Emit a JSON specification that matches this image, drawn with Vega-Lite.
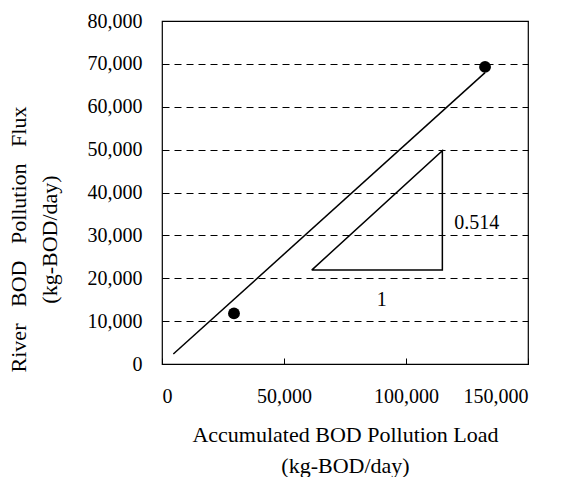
{
  "$schema": "https://vega.github.io/schema/vega-lite/v6.json",
  "width": 366,
  "height": 343,
  "autosize": {"type": "none"},
  "padding": {"left": 162, "top": 21, "right": 35, "bottom": 113},
  "background": "white",
  "config": {
    "font": "Liberation Serif",
    "view": {"stroke": "#000", "strokeWidth": 1.2},
    "axis": {
      "labelFont": "Liberation Serif",
      "titleFont": "Liberation Serif",
      "labelColor": "#000",
      "titleColor": "#000",
      "labelFontSize": 20,
      "titleFontSize": 22,
      "titleFontWeight": "normal",
      "domain": false,
      "tickColor": "#000",
      "tickWidth": 1
    }
  },
  "layer": [
    {
      "data": {"values": [
        {"load": 29500, "flux": 11800},
        {"load": 132400, "flux": 69300}
      ]},
      "mark": {"type": "point", "filled": true, "color": "#000", "opacity": 1, "size": 140},
      "encoding": {
        "x": {
          "field": "load", "type": "quantitative",
          "scale": {"domain": [0, 150000], "nice": false, "zero": true},
          "axis": {
            "values": [0, 50000, 100000, 150000],
            "format": ",d",
            "grid": false,
            "tickSize": -6,
            "labelPadding": 28,
            "title": ["Accumulated BOD Pollution Load", "(kg-BOD/day)"],
            "titleLineHeight": 31,
            "titleBaseline": "middle",
            "titleY": 70,
            "titlePadding": 0
          }
        },
        "y": {
          "field": "flux", "type": "quantitative",
          "scale": {"domain": [0, 80000], "nice": false},
          "axis": {
            "values": [0, 10000, 20000, 30000, 40000, 50000, 60000, 70000, 80000],
            "format": ",d",
            "grid": true,
            "gridColor": "#000",
            "gridDash": [7, 5],
            "gridWidth": 1,
            "tickSize": -5,
            "labelPadding": 25,
            "title": ["River\u00a0\u00a0\u00a0BOD\u00a0\u00a0\u00a0Pollution\u00a0\u00a0\u00a0Flux", "(kg-BOD/day)"],
            "titleLineHeight": 31,
            "titleBaseline": "middle",
            "titleX": -144,
            "titleY": 218,
            "titleAngle": -90
          }
        }
      }
    },
    {
      "data": {"values": [
        {"load": 4640, "flux": 2330},
        {"load": 132400, "flux": 67950}
      ]},
      "mark": {"type": "line", "color": "#000", "strokeWidth": 1.5},
      "encoding": {
        "x": {"field": "load", "type": "quantitative"},
        "y": {"field": "flux", "type": "quantitative"}
      }
    },
    {
      "data": {"values": [
        {"load": 61350, "flux": 21900, "ord": 1},
        {"load": 114900, "flux": 21900, "ord": 2},
        {"load": 114900, "flux": 49750, "ord": 3},
        {"load": 61350, "flux": 21900, "ord": 4}
      ]},
      "mark": {"type": "line", "color": "#000", "strokeWidth": 1.5},
      "encoding": {
        "x": {"field": "load", "type": "quantitative"},
        "y": {"field": "flux", "type": "quantitative"},
        "order": {"field": "ord", "type": "quantitative"}
      }
    },
    {
      "data": {"values": [
        {"load": 128970, "flux": 32960, "label": "0.514"},
        {"load": 90040, "flux": 14930, "label": "1"}
      ]},
      "mark": {"type": "text", "font": "Liberation Serif", "fontSize": 20, "color": "#000", "baseline": "middle", "align": "center"},
      "encoding": {
        "x": {"field": "load", "type": "quantitative"},
        "y": {"field": "flux", "type": "quantitative"},
        "text": {"field": "label", "type": "nominal"}
      }
    }
  ]
}
